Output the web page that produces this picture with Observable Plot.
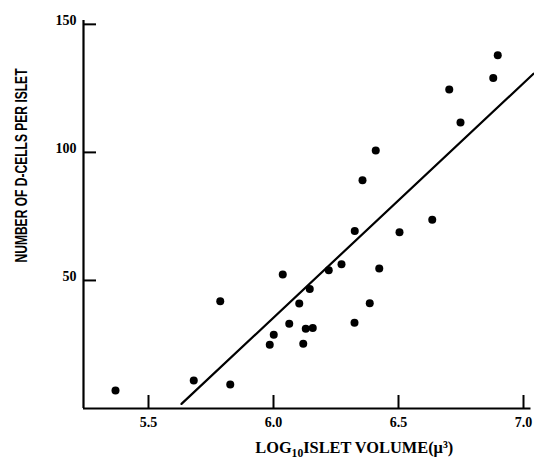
<!DOCTYPE html>
<html>
<head>
<meta charset="utf-8">
<script src="https://cdn.jsdelivr.net/npm/d3@7"></script>
<script src="https://cdn.jsdelivr.net/npm/@observablehq/plot@0.6"></script>
<style>
  html, body { margin: 0; padding: 0; background: #fff; }
</style>
</head>
<body>
<div id="chart"></div>
<script>
// Data
const logVolume = [5.368, 5.681, 5.787, 5.827, 5.985, 6.001, 6.037, 6.063, 6.103, 6.119, 6.129, 6.145, 6.157, 6.221, 6.272, 6.324, 6.325, 6.356, 6.385, 6.409, 6.423, 6.504, 6.635, 6.703, 6.748, 6.879, 6.897];
const dCells    = [7.0,   10.9,  41.9,  9.4,   24.9,  28.8,  52.3,  33.1,  41.0,  25.3,  31.1,  46.7,  31.4,  54.0,  56.3,  33.5,  69.3,  89.1,  41.1,  100.7, 54.7,  68.8,  73.7,  124.6, 111.7, 129.0, 137.9];
// Regression line end points
const fitX = [5.632, 7.04];
const fitY = [1.8, 130.7];
// Ticks
const xTicks = [5.5, 6.0, 6.5, 7.0];
const yTicks = [50, 100, 150];

const xTitle = "LOG10ISLET VOLUME(μ³)";
const yTitle = "NUMBER OF D-CELLS PER ISLET";

const points = logVolume.map((x, i) => ({x, y: dCells[i]}));
const fit = fitX.map((x, i) => ({x, y: fitY[i]}));

const serif = "'Liberation Serif', 'Times New Roman', serif";
const sans = "'Liberation Sans', Arial, sans-serif";

const chart = Plot.plot({
  width: 534,
  height: 460,
  marginLeft: 83,
  marginRight: 3.5,
  marginTop: 20,
  marginBottom: 52,
  style: {background: "#fff", color: "#000"},
  x: {domain: [5.24, 7.03]},
  y: {domain: [0, 151.5]},
  marks: [
    // axis lines
    Plot.ruleY([0], {stroke: "#000", strokeWidth: 2.2}),
    Plot.ruleX([5.24], {stroke: "#000", strokeWidth: 2.2}),
    // inward ticks
    Plot.tickX(xTicks, {x: d => d, stroke: "#000", strokeWidth: 2, insetTop: 375}),
    Plot.tickY(yTicks, {y: d => d, stroke: "#000", strokeWidth: 2, insetRight: 434.5}),
    // tick labels
    Plot.axisX(xTicks, {tickSize: 0, tickPadding: 9, tickFormat: d3.format(".1f"), fontSize: 14, fontWeight: "bold", fontFamily: serif, label: null}),
    Plot.axisY(yTicks, {tickSize: 0, tickPadding: 7, dy: -4, fontSize: 14, fontWeight: "bold", fontFamily: serif, label: null}),
    // regression line
    Plot.line(fit, {x: "x", y: "y", stroke: "#000", strokeWidth: 2.2}),
    // data points
    Plot.dot(points, {x: "x", y: "y", r: 4, fill: "#000"}),
    // axis titles
    Plot.text([xTitle], {frameAnchor: "bottom", dx: 47, dy: 39.5, fontSize: 17, fontWeight: "bold", fontFamily: serif, textAnchor: "middle", lineAnchor: "middle"}),
    Plot.text([yTitle], {frameAnchor: "left", rotate: -90, dx: -61.5, dy: -49, fontSize: 16, fontWeight: "bold", fontFamily: sans, textAnchor: "middle", lineAnchor: "middle"})
  ]
});

d3.select(chart).selectAll("text").each(function() {
  const t = d3.select(this);
  if (this.textContent === xTitle) {
    t.text(null);
    t.append("tspan").text("LOG");
    t.append("tspan").attr("font-size", "12").attr("dy", "4").text("10");
    t.append("tspan").attr("dy", "-4").text("ISLET VOLUME(μ³)");
    t.attr("textLength", 198).attr("lengthAdjust", "spacingAndGlyphs");
  } else if (this.textContent === yTitle) {
    t.attr("textLength", 194).attr("lengthAdjust", "spacingAndGlyphs");
  }
});

document.getElementById("chart").appendChild(chart);
</script>
</body>
</html>
